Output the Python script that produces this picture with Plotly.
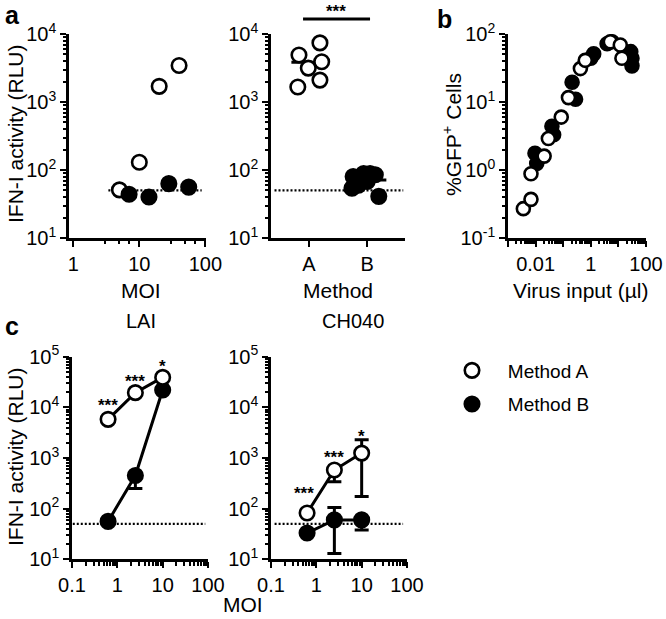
import math
import plotly.graph_objects as go

W, H = 666, 619
FONT = "Liberation Sans, Arial, Helvetica, sans-serif"
FS_TICK = 20
FS_TITLE = 21
FS_LEG = 19

# ---------------- data ----------------
# panel a, left: IFN-I activity vs MOI
a1_moi_A = [5, 10, 20, 40]
a1_rlu_A = [51, 130, 1700, 3450]
a1_moi_B = [7, 14, 28, 56]
a1_rlu_B = [44, 40, 63, 56]
a1_xticks = [1, 10, 100]
a1_xticktext = ["1", "10", "100"]

# panel a, right: by method
a2_categories = ["A", "B"]
a2_rlu_A = [4900, 7400, 3900, 3150, 2100, 1660]
a2_jitter_A = [-0.17, 0.19, 0.22, -0.01, 0.19, -0.19]
a2_rlu_B = [80, 60, 89, 89, 85, 68, 54, 41, 75]
a2_jitter_B = [-0.24, -0.15, -0.06, 0.05, 0.14, 0.0, -0.26, 0.2, -0.12]
a2_sig = "***"

# limit of detection (dotted line)
lod = 50

# panel b: %GFP+ cells vs virus input
b_input_A = [0.0036, 0.0068, 0.0068, 0.0204, 0.029, 0.085, 0.155, 0.42, 0.63, 5.1, 11.7, 13.4]
b_gfp_A = [0.27, 0.37, 0.88, 1.6, 2.9, 6.0, 11.6, 31, 41, 77, 69, 44]
b_input_B = [0.0095, 0.011, 0.039, 0.045, 0.21, 0.28, 1.0, 1.27, 3.9, 5.9, 31, 31, 28]
b_gfp_B = [1.76, 1.25, 4.4, 3.3, 19.5, 11, 44, 51, 72, 77, 44, 34, 55]
b_xticks = [0.001, 0.01, 0.1, 1, 10, 100]
b_xticktext = ["", "0.01", "", "1", "", "100"]

# panel c: LAI and CH040
c_moi = [0.625, 2.5, 10]
c_lai_A = [5800, 19500, 39000]
c_lai_B = [56, 450, 22000]
c_lai_B_err_plus = [0, 0, 0]
c_lai_B_err_minus = [0, 200, 0]
c_ch040_A = [82, 580, 1250]
c_ch040_A_err_plus = [0, 0, 1050]
c_ch040_A_err_minus = [0, 240, 1077]
c_ch040_B = [33, 60, 60]
c_ch040_B_err_plus = [0, 45, 0]
c_ch040_B_err_minus = [0, 47, 22]
c_lai_sig = ["***", "***", "*"]
c_ch040_sig = ["***", "***", "*"]
c_xticks = [0.1, 1, 10, 100]
c_xticktext = ["0.1", "1", "10", "100"]

def decade_ticks(lo, hi):
    return [10 ** e for e in range(lo, hi + 1)], ["10<sup>%d</sup>" % e for e in range(lo, hi + 1)]

def minor_vals(lo, hi):
    return [m * 10 ** e for e in range(lo, hi) for m in range(2, 10)]

# ---------------- layout geometry (pixels) ----------------
def px_x(p):
    return p / W

def px_y(p):
    return 1 - p / H

top_dom = [px_y(238), px_y(34)]
bot_dom = [px_y(559.3), px_y(356.7)]

fig = go.Figure()

open_marker = dict(symbol="circle", size=14.5, color="white", line=dict(color="black", width=2.6))
fill_marker = dict(symbol="circle", size=14.5, color="black", line=dict(color="black", width=2.6))
small_open = dict(symbol="circle", size=13, color="white", line=dict(color="black", width=2.6))
small_fill = dict(symbol="circle", size=13, color="black", line=dict(color="black", width=2.6))
dot_line = dict(color="black", width=2.2, dash="2px,2px")

# ---- panel a1 ----
fig.add_trace(go.Scatter(x=[3.4, 88], y=[lod, lod], mode="lines", line=dot_line,
                         xaxis="x", yaxis="y", showlegend=False, hoverinfo="skip"))
fig.add_trace(go.Scatter(x=a1_moi_A, y=a1_rlu_A, mode="markers", marker=open_marker,
                         xaxis="x", yaxis="y", showlegend=False, cliponaxis=False))
fig.add_trace(go.Scatter(x=a1_moi_B, y=a1_rlu_B, mode="markers", marker=fill_marker,
                         xaxis="x", yaxis="y", showlegend=False, cliponaxis=False))

# ---- panel a2 ----
mean_A = sum(a2_rlu_A) / len(a2_rlu_A)
mean_B = sum(a2_rlu_B) / len(a2_rlu_B)
fig.add_trace(go.Scatter(x=[-0.59, 1.62], y=[lod, lod], mode="lines", line=dot_line,
                         xaxis="x2", yaxis="y2", showlegend=False, hoverinfo="skip"))
fig.add_trace(go.Scatter(x=[-0.3, 0.3], y=[mean_A, mean_A], mode="lines",
                         line=dict(color="black", width=3), xaxis="x2", yaxis="y2", showlegend=False))
fig.add_trace(go.Scatter(x=[1 - 0.33, 1 + 0.33], y=[mean_B, mean_B], mode="lines",
                         line=dict(color="black", width=3), xaxis="x2", yaxis="y2", showlegend=False))
fig.add_trace(go.Scatter(x=[0 + j for j in a2_jitter_A], y=a2_rlu_A, mode="markers", marker=open_marker,
                         xaxis="x2", yaxis="y2", showlegend=False, cliponaxis=False))
fig.add_trace(go.Scatter(x=[1 + j for j in a2_jitter_B], y=a2_rlu_B, mode="markers", marker=fill_marker,
                         xaxis="x2", yaxis="y2", showlegend=False, cliponaxis=False))

# ---- panel b ----
fig.add_trace(go.Scatter(x=b_input_B, y=b_gfp_B, mode="markers", marker=small_fill,
                         xaxis="x3", yaxis="y3", showlegend=False, cliponaxis=False))
fig.add_trace(go.Scatter(x=b_input_A, y=b_gfp_A, mode="markers", marker=small_open,
                         xaxis="x3", yaxis="y3", showlegend=False, cliponaxis=False))

# ---- panel c1 (LAI) ----
fig.add_trace(go.Scatter(x=[0.104, 87], y=[lod, lod], mode="lines", line=dot_line,
                         xaxis="x4", yaxis="y4", showlegend=False, hoverinfo="skip"))
fig.add_trace(go.Scatter(x=c_moi, y=c_lai_B, mode="lines+markers", marker=fill_marker,
                         line=dict(color="black", width=3),
                         error_y=dict(type="data", symmetric=False, array=c_lai_B_err_plus,
                                      arrayminus=c_lai_B_err_minus, color="black", thickness=3, width=7),
                         xaxis="x4", yaxis="y4", showlegend=False, cliponaxis=False))
fig.add_trace(go.Scatter(x=c_moi, y=c_lai_A, mode="lines+markers", marker=open_marker,
                         line=dict(color="black", width=3),
                         xaxis="x4", yaxis="y4", showlegend=False, cliponaxis=False))

# ---- panel c2 (CH040) ----
fig.add_trace(go.Scatter(x=[0.12, 82], y=[lod, lod], mode="lines", line=dot_line,
                         xaxis="x5", yaxis="y5", showlegend=False, hoverinfo="skip"))
fig.add_trace(go.Scatter(x=c_moi, y=c_ch040_B, mode="lines+markers", marker=fill_marker,
                         line=dict(color="black", width=3),
                         error_y=dict(type="data", symmetric=False, array=c_ch040_B_err_plus,
                                      arrayminus=c_ch040_B_err_minus, color="black", thickness=3, width=7),
                         xaxis="x5", yaxis="y5", showlegend=False, cliponaxis=False))
fig.add_trace(go.Scatter(x=c_moi, y=c_ch040_A, mode="lines+markers", marker=open_marker,
                         line=dict(color="black", width=3),
                         error_y=dict(type="data", symmetric=False, array=c_ch040_A_err_plus,
                                      arrayminus=c_ch040_A_err_minus, color="black", thickness=3, width=7),
                         xaxis="x5", yaxis="y5", showlegend=False, cliponaxis=False))

# ---- legend entries ----
fig.add_trace(go.Scatter(x=[None], y=[None], mode="markers", marker=open_marker, name="\u00a0\u00a0\u00a0Method A",
                         legendgroup="A", xaxis="x4", yaxis="y4"))
fig.add_trace(go.Scatter(x=[None], y=[None], mode="markers", marker=fill_marker, name="\u00a0\u00a0\u00a0Method B",
                         legendgroup="B", xaxis="x4", yaxis="y4"))

# ---------------- axes ----------------
base = dict(showline=True, linecolor="black", linewidth=2.6, ticks="outside", ticklen=6, tickwidth=2.4,
            tickcolor="black", showgrid=False, zeroline=False, automargin=False, fixedrange=True,
            tickfont=dict(family=FONT, size=FS_TICK, color="black"))
minor_style = dict(ticks="outside", ticklen=3.5, tickwidth=2, tickcolor="black", showgrid=False)

yv14, yt14 = decade_ticks(1, 4)
yv15, yt15 = decade_ticks(1, 5)
yvb, ytb = decade_ticks(-1, 2)

fig.update_layout(
    xaxis=dict(base, type="log", domain=[px_x(69), px_x(206)], range=[-0.065, 2.01], anchor="y",
               tickmode="array", tickvals=a1_xticks, ticktext=a1_xticktext,
               minor=dict(minor_style, tickmode="array", tickvals=[3, 5, 7, 30, 50, 70])),
    yaxis=dict(base, type="log", domain=top_dom, range=[1, 4], anchor="x",
               tickmode="array", tickvals=yv14, ticktext=yt14,
               minor=dict(minor_style, tickmode="array", tickvals=minor_vals(1, 4))),
    xaxis2=dict(base, domain=[px_x(271), px_x(405)], range=[-0.65, 1.65], anchor="y2",
                tickmode="array", tickvals=[0, 1], ticktext=a2_categories),
    yaxis2=dict(base, type="log", domain=top_dom, range=[1, 4], anchor="x2",
                tickmode="array", tickvals=yv14, ticktext=yt14,
                minor=dict(minor_style, tickmode="array", tickvals=minor_vals(1, 4))),
    xaxis3=dict(base, type="log", domain=[px_x(508), px_x(646)], range=[-3, 2], anchor="y3",
                tickmode="array", tickvals=b_xticks, ticktext=b_xticktext,
                minor=dict(minor_style, tickmode="array", tickvals=minor_vals(-3, 2))),
    yaxis3=dict(base, type="log", domain=top_dom, range=[-1, 2], anchor="x3",
                tickmode="array", tickvals=yvb, ticktext=ytb,
                minor=dict(minor_style, tickmode="array", tickvals=minor_vals(-1, 2))),
    xaxis4=dict(base, type="log", domain=[px_x(72), px_x(208)], range=[-1, 2], anchor="y4",
                tickmode="array", tickvals=c_xticks, ticktext=c_xticktext,
                minor=dict(minor_style, tickmode="array", tickvals=minor_vals(-1, 2))),
    yaxis4=dict(base, type="log", domain=bot_dom, range=[1, 5], anchor="x4",
                tickmode="array", tickvals=yv15, ticktext=yt15,
                minor=dict(minor_style, tickmode="array", tickvals=minor_vals(1, 5))),
    xaxis5=dict(base, type="log", domain=[px_x(271), px_x(407)], range=[-1, 2], anchor="y5",
                tickmode="array", tickvals=c_xticks, ticktext=c_xticktext,
                minor=dict(minor_style, tickmode="array", tickvals=minor_vals(-1, 2))),
    yaxis5=dict(base, type="log", domain=bot_dom, range=[1, 5], anchor="x5",
                tickmode="array", tickvals=yv15, ticktext=yt15,
                minor=dict(minor_style, tickmode="array", tickvals=minor_vals(1, 5))),
)

# ---------------- text ----------------
ann = []

def label(text, x, y, size=FS_TITLE, angle=0, bold=False, **kw):
    t = "<b>%s</b>" % text if bold else text
    d = dict(text=t, x=px_x(x), y=px_y(y), xref="paper", yref="paper", showarrow=False,
             textangle=angle, font=dict(family=FONT, size=size, color="black"),
             xanchor="center", yanchor="middle")
    d.update(kw)
    ann.append(d)

# panel letters
label("a", 3, 15.5, size=25, bold=True, xanchor="left")
label("b", 435, 19, size=25, bold=True, xanchor="left")
label("c", 3, 325.5, size=25, bold=True, xanchor="left")

# axis titles
label("IFN-I activity (RLU)", 15, 134, angle=-90)
label("MOI", 141, 291)
label("Method", 338, 291)
label("%GFP<sup>+</sup> Cells", 452, 135, angle=-90)
label("Virus input (\u00b5l)", 580, 291)
label("IFN-I activity (RLU)", 15, 457, angle=-90)
label("MOI", 243, 604)
label("LAI", 141, 321, size=20)
label("CH040", 353, 321, size=20)

# significance in a2
ann.append(dict(text="<b>%s</b>" % a2_sig, x=0.47, y=1.11, xref="x2", yref="y2 domain", showarrow=False,
                font=dict(family=FONT, size=17, color="black"), xanchor="center", yanchor="middle"))

# significance in c
c1_shift = [14, 11, 11]
c2_shift = [20, 12, 17]
for i, s in enumerate(c_lai_sig):
    ann.append(dict(text="<b>%s</b>" % s, x=math.log10(c_moi[i]), y=math.log10(c_lai_A[i]), xref="x4", yref="y4",
                    showarrow=False, yshift=c1_shift[i], font=dict(family=FONT, size=17, color="black"),
                    xanchor="center", yanchor="middle"))
for i, s in enumerate(c_ch040_sig):
    ann.append(dict(text="<b>%s</b>" % s, x=math.log10(c_moi[i]), y=math.log10(c_ch040_A[i]), xref="x5", yref="y5",
                    showarrow=False, yshift=c2_shift[i], xshift=(-3 if i == 0 else 0),
                    font=dict(family=FONT, size=17, color="black"), xanchor="center", yanchor="middle"))

shapes = [dict(type="line", xref="x2", yref="y2 domain", x0=-0.1, x1=1.05, y0=1.0735, y1=1.0735,
               line=dict(color="black", width=3))]

fig.update_layout(
    width=W, height=H, margin=dict(l=0, r=0, t=0, b=0),
    paper_bgcolor="white", plot_bgcolor="white",
    annotations=ann, shapes=shapes,
    font=dict(family=FONT, size=FS_TICK, color="black"),
    showlegend=True,
    legend=dict(x=px_x(452), y=px_y(351.5), xanchor="left", yanchor="top", bgcolor="rgba(0,0,0,0)",
                font=dict(family=FONT, size=FS_LEG, color="black"), tracegroupgap=6,
                itemclick=False, itemdoubleclick=False),
)

fig.write_html("out.html", config={"displayModeBar": False},
               post_script="document.body.style.margin='0';document.body.style.overflow='hidden';")
